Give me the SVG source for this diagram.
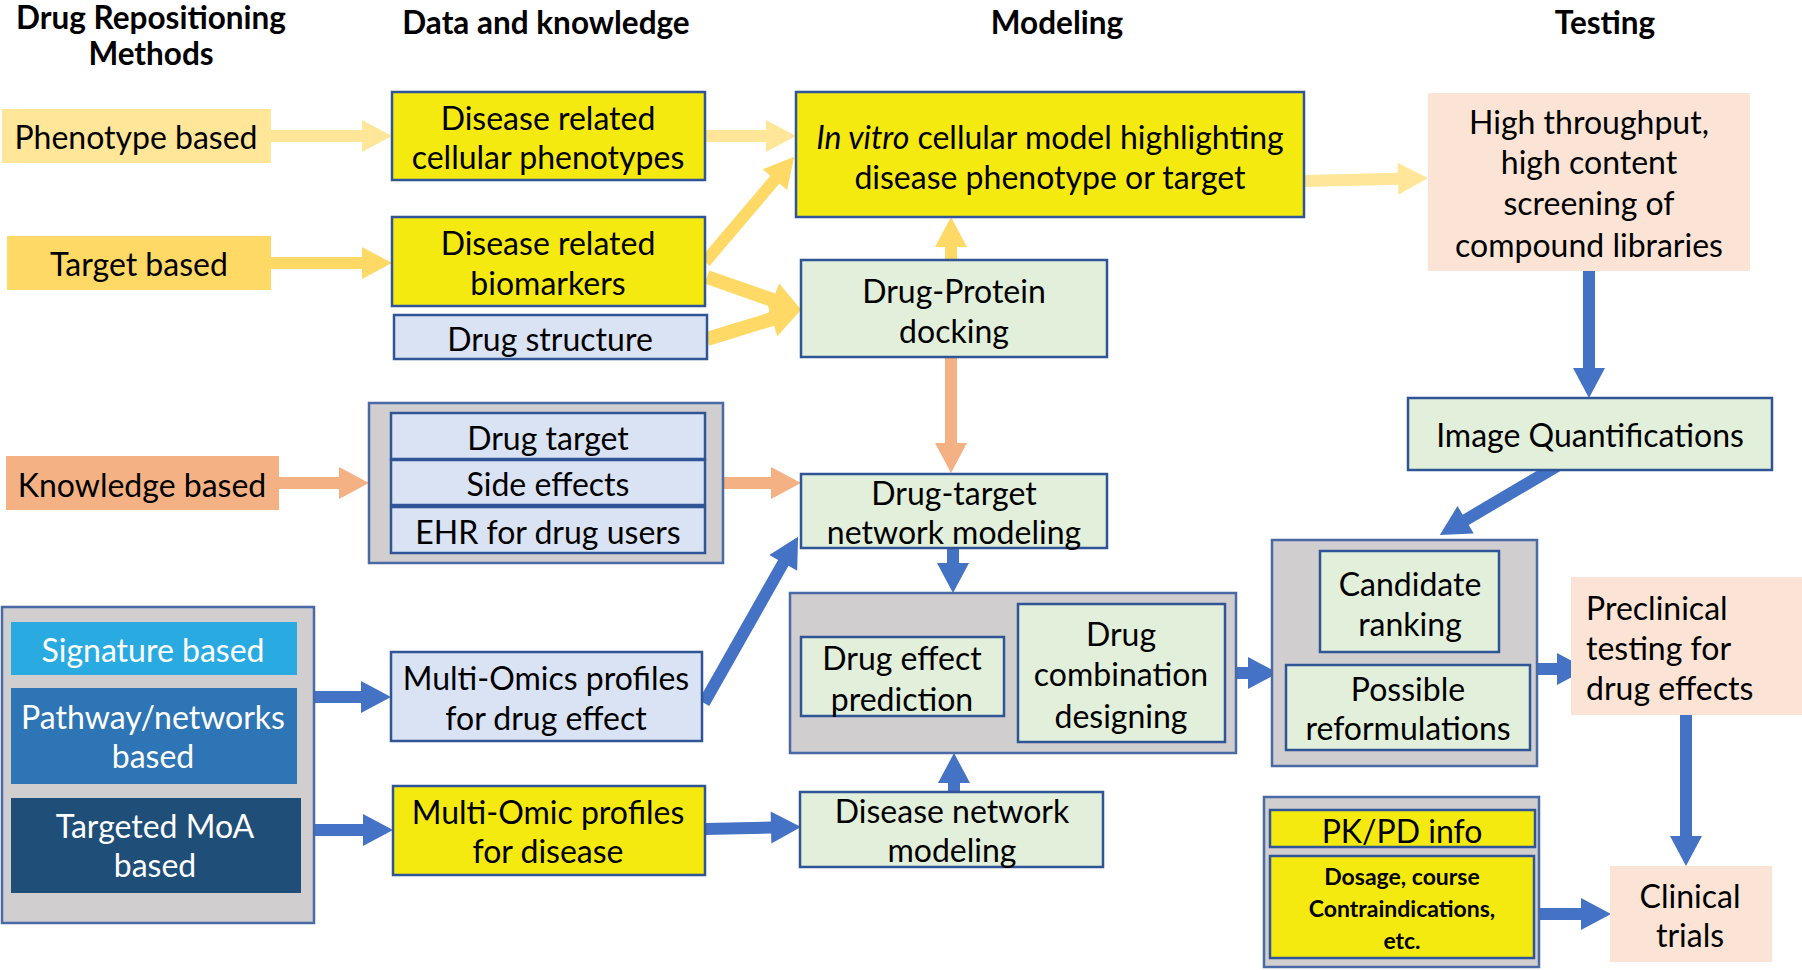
<svg xmlns="http://www.w3.org/2000/svg" width="1802" height="970" viewBox="0 0 1802 970">
<style>
text{font-family:Lato,"Liberation Sans",sans-serif;font-size:32px;fill:#000;text-anchor:middle;dominant-baseline:central}
.hd{font-weight:bold;font-size:31.5px}
.w{fill:#fff}
.b{stroke:#2F5597;stroke-width:2.5}
.yl{fill:#F4EA10}
.lb{fill:#DAE3F3}
.gr{fill:#E2EFDA}
.gy{fill:#D0CECE;stroke:#4A6AA5;stroke-width:2.5}
.pe{fill:#FBE4D5}
.sm{font-weight:bold;font-size:23px}
</style>
<rect width="1802" height="970" fill="#fff"/>
<g id="headers">
<text class="hd" x="151" y="17">Drug Repositioning</text>
<text class="hd" x="151" y="53">Methods</text>
<text class="hd" x="546" y="22">Data and knowledge</text>
<text class="hd" x="1057" y="22">Modeling</text>
<text class="hd" x="1605" y="22">Testing</text>
</g>
<g id="connectors">
<polygon fill="#FFE699" transform="translate(271,136)" points="0,-6 91,-6 91,-16 121,0 91,16 91,6 0,6"/>
<polygon fill="#FFD966" transform="translate(271,263)" points="0,-6 91,-6 91,-16 121,0 91,16 91,6 0,6"/>
<polygon fill="#FFE699" transform="translate(705,136)" points="0,-6 61,-6 61,-16 91,0 61,16 61,6 0,6"/>
<polygon fill="#FFD966" transform="translate(705,262) rotate(-49.7)" points="0,-6 108,-6 108,-16 138,0 108,16 108,6 0,6"/>
<polygon fill="#FFD966" transform="translate(707,277) rotate(19.3)" points="0,-7 70,-7 70,-18 100,0 70,18 70,7 0,7"/>
<polygon fill="#FFD966" transform="translate(707,339) rotate(-17.1)" points="0,-7 68,-7 68,-18 98,0 68,18 68,7 0,7"/>
<polygon fill="#FFE699" transform="translate(1304,181) rotate(-1.4)" points="0,-6 94,-6 94,-16 124,0 94,16 94,6 0,6"/>
<polygon fill="#FFD966" transform="translate(951,260) rotate(-90)" points="0,-6 13,-6 13,-16 43,0 13,16 13,6 0,6"/>
<polygon fill="#F4B183" transform="translate(951,357) rotate(90)" points="0,-6 86,-6 86,-16 116,0 86,16 86,6 0,6"/>
<polygon fill="#F4B183" transform="translate(279,483)" points="0,-6 60,-6 60,-16 90,0 60,16 60,6 0,6"/>
<polygon fill="#F4B183" transform="translate(723,483)" points="0,-6 48,-6 48,-16 78,0 48,16 48,6 0,6"/>
<polygon fill="#4472C4" transform="translate(704,703) rotate(-60.5)" points="0,-6 161,-6 161,-16 191,0 161,16 161,6 0,6"/>
<polygon fill="#4472C4" transform="translate(314,697)" points="0,-6 47,-6 47,-16 77,0 47,16 47,6 0,6"/>
<polygon fill="#4472C4" transform="translate(314,830)" points="0,-6 49,-6 49,-16 79,0 49,16 49,6 0,6"/>
<polygon fill="#4472C4" transform="translate(705,829) rotate(-1.2)" points="0,-6 66,-6 66,-16 96,0 66,16 66,6 0,6"/>
<polygon fill="#4472C4" transform="translate(953,548) rotate(90)" points="0,-6 15,-6 15,-16 45,0 15,16 15,6 0,6"/>
<polygon fill="#4472C4" transform="translate(954,792) rotate(-90)" points="0,-6 9,-6 9,-16 39,0 9,16 9,6 0,6"/>
<polygon fill="#4472C4" transform="translate(1236,673)" points="0,-6 12,-6 12,-16 42,0 12,16 12,6 0,6"/>
<polygon fill="#4472C4" transform="translate(1589,271) rotate(90)" points="0,-6 97,-6 97,-16 127,0 97,16 97,6 0,6"/>
<polygon fill="#4472C4" transform="translate(1557,466) rotate(149.5)" points="0,-6 106,-6 106,-16 136,0 106,16 106,6 0,6"/>
<polygon fill="#4472C4" transform="translate(1537,669)" points="0,-6 20,-6 20,-16 50,0 20,16 20,6 0,6"/>
<polygon fill="#4472C4" transform="translate(1686,715) rotate(90)" points="0,-6 121,-6 121,-16 151,0 121,16 121,6 0,6"/>
<polygon fill="#4472C4" transform="translate(1540,914)" points="0,-6 41,-6 41,-16 71,0 41,16 41,6 0,6"/>
</g>
<g id="phenotype-based"><rect x="2" y="109" width="269" height="54" fill="#FFE699"/><text x="136" y="136">Phenotype based</text></g>
<g id="target-based"><rect x="7" y="236" width="264" height="54" fill="#FFD966"/><text x="139" y="263">Target based</text></g>
<g id="knowledge-based"><rect x="6" y="456" width="273" height="54" fill="#F4B183"/><text x="142" y="484">Knowledge based</text></g>
<g id="methods-group">
<rect class="gy" x="2" y="607" width="312" height="316"/>
<g id="signature-based"><rect x="11" y="622" width="286" height="53" fill="#29ABE2"/><text class="w" x="153" y="649">Signature based</text></g>
<g id="pathway-based"><rect x="11" y="688" width="286" height="96" fill="#2E75B6"/><text class="w" x="153" y="716">Pathway/networks</text><text class="w" x="153" y="755">based</text></g>
<g id="targeted-moa"><rect x="11" y="798" width="290" height="95" fill="#1F4E79"/><text class="w" x="155" y="825">Targeted MoA</text><text class="w" x="155" y="864">based</text></g>
</g>
<g id="disease-cellular"><rect class="yl b" x="392" y="92" width="313" height="88"/><text x="548" y="117">Disease related</text><text x="548" y="156">cellular phenotypes</text></g>
<g id="disease-biomarkers"><rect class="yl b" x="392" y="217" width="313" height="89"/><text x="548" y="242">Disease related</text><text x="548" y="282">biomarkers</text></g>
<g id="drug-structure"><rect class="lb b" x="394" y="315" width="313" height="44"/><text x="550" y="338">Drug structure</text></g>
<g id="knowledge-group">
<rect class="gy" x="369" y="403" width="354" height="160"/>
<g id="drug-target"><rect class="lb b" x="391" y="413" width="314" height="46"/><text x="548" y="437">Drug target</text></g>
<g id="side-effects"><rect class="lb b" x="391" y="460" width="314" height="45"/><text x="548" y="483">Side effects</text></g>
<g id="ehr"><rect class="lb b" x="391" y="507" width="314" height="46"/><text x="548" y="531">EHR for drug users</text></g>
</g>
<g id="multi-omics-drug"><rect class="lb b" x="391" y="652" width="311" height="89"/><text x="546" y="677">Multi-Omics profiles</text><text x="546" y="717">for drug effect</text></g>
<g id="multi-omic-disease"><rect class="yl b" x="393" y="786" width="312" height="89"/><text x="548" y="811">Multi-Omic profiles</text><text x="548" y="850">for disease</text></g>
<g id="in-vitro"><rect class="yl b" x="796" y="92" width="508" height="125"/><text x="1050" y="136"><tspan font-style="italic">In vitro</tspan> cellular model highlighting</text><text x="1050" y="176">disease phenotype or target</text></g>
<g id="docking"><rect class="gr b" x="801" y="260" width="306" height="97"/><text x="954" y="290">Drug-Protein</text><text x="954" y="330">docking</text></g>
<g id="drug-target-network"><rect class="gr b" x="801" y="474" width="306" height="74"/><text x="954" y="492">Drug-target</text><text x="954" y="531">network modeling</text></g>
<g id="modeling-group">
<rect class="gy" x="790" y="593" width="446" height="160"/>
<g id="drug-effect"><rect class="gr b" x="801" y="637" width="203" height="79"/><text x="902" y="657">Drug effect</text><text x="902" y="698">prediction</text></g>
<g id="drug-combination"><rect class="gr b" x="1018" y="604" width="207" height="138"/><text x="1121" y="633">Drug</text><text x="1121" y="673">combination</text><text x="1121" y="715">designing</text></g>
</g>
<g id="disease-network"><rect class="gr b" x="800" y="792" width="303" height="75"/><text x="952" y="810">Disease network</text><text x="952" y="849">modeling</text></g>
<g id="high-throughput"><rect class="pe" x="1428" y="93" width="322" height="178"/><text x="1589" y="121">High throughput,</text><text x="1589" y="161">high content</text><text x="1589" y="202">screening of</text><text x="1589" y="244">compound libraries</text></g>
<g id="image-quant"><rect class="gr b" x="1408" y="398" width="364" height="72"/><text x="1590" y="434">Image Quantifications</text></g>
<g id="candidate-group">
<rect class="gy" x="1272" y="540" width="265" height="226"/>
<g id="candidate-ranking"><rect class="gr b" x="1320" y="551" width="179" height="101"/><text x="1410" y="583">Candidate</text><text x="1410" y="623">ranking</text></g>
<g id="reformulations"><rect class="gr b" x="1286" y="665" width="244" height="85"/><text x="1408" y="688">Possible</text><text x="1408" y="727">reformulations</text></g>
</g>
<g id="preclinical"><rect class="pe" x="1571" y="577" width="231" height="138"/><text x="1586" y="607" style="text-anchor:start">Preclinical</text><text x="1586" y="647" style="text-anchor:start">testing for</text><text x="1586" y="687" style="text-anchor:start">drug effects</text></g>
<g id="pkpd-group">
<rect class="gy" x="1264" y="797" width="275" height="170"/>
<g id="pkpd-info"><rect class="yl b" x="1270" y="810" width="265" height="37"/><text x="1402" y="830">PK/PD info</text></g>
<g id="dosage"><rect class="yl b" x="1270" y="856" width="264" height="102"/><text class="sm" x="1402" y="876">Dosage, course</text><text class="sm" x="1402" y="908">Contraindications,</text><text class="sm" x="1402" y="940">etc.</text></g>
</g>
<g id="clinical-trials"><rect class="pe" x="1610" y="866" width="162" height="96"/><text x="1690" y="895">Clinical</text><text x="1690" y="934">trials</text></g>
</svg>
